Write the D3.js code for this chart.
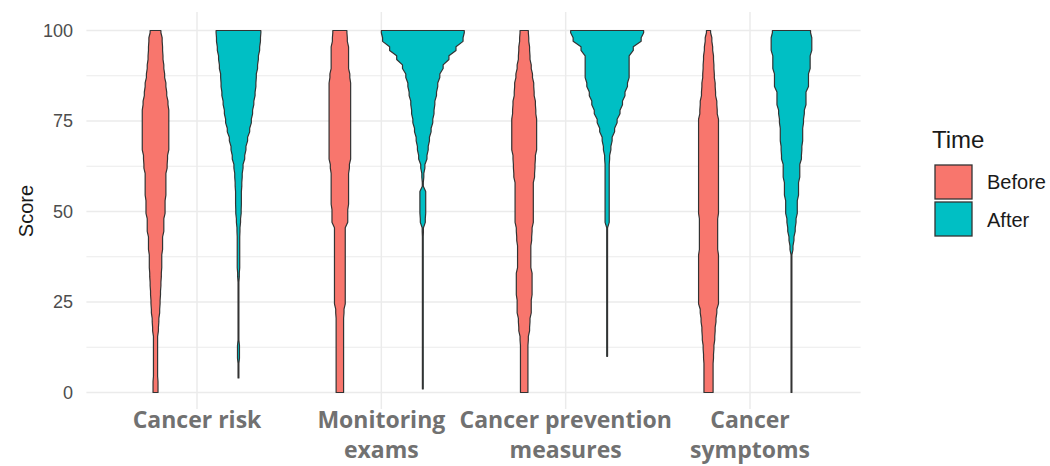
<!DOCTYPE html>
<html>
<head>
<meta charset="utf-8">
<script src="https://cdn.jsdelivr.net/npm/d3@7"></script>
<style>
  html, body { margin: 0; padding: 0; background: #ffffff; }
  svg { display: block; }
</style>
</head>
<body>
<svg id="chart" width="1050" height="466"></svg>
<script>
// Topic categories on the x axis (line breaks shown as separate label lines)
const categories = ["Cancer risk", "Monitoring exams", "Cancer prevention measures", "Cancer symptoms"];
const categoryLabels = [["Cancer risk"], ["Monitoring", "exams"], ["Cancer prevention", "measures"], ["Cancer", "symptoms"]];
const groups = ["Before", "After"];
const groupColors = ["#F8766D", "#00BFC4"];

// Score levels at which the violin density is read (top to bottom)
const scoreLevels = d3.range(100, -0.01, -2.5);

// Relative density (violin width, 100 = widest) at each score level
const riskBefore = [13,16,17,18,20,22,25,27,30,32, 32,32,32,32,29,28,25,25,25,23, 23,20,20,17,17,15,15,14,13,12, 11,10,8,7,5,5,5,5,5,6, 6];
const riskAfter = [54,53,51,48,46,43,42,40,37,34, 31,27,22,18,15,11,9,8,7,7, 6.5,5,3.6,3,3,3,3,2,1,1, 1,1,1,1,1,2.4,2.4,1,1,1, 0];
const examsBefore = [17,18,21,21,21,24,26,26,26,26, 26,26,26,26,26,23,21,21,21,21, 19,19,13,13,13,13,13,13,13,13, 13,10,9,9,9,9,9,9,9,9, 9];
const examsAfter = [100,97,80,63,49,41,36,33,29,27, 24,20,16,13,10,5,2.4,1.2,7,7, 7,6,1.5,1,1,1,1,1,1,1, 1,1,1,1,1,1,1,1,1,1, 1];
const preventionBefore = [10,11,13,14,17,20,23,24,27,28, 30,30,30,30,27,26,25,22,22,22, 22,22,19,18,16,16,16,19,19,19, 17,17,14,13,10,9,9,9,9,9, 9];
const preventionAfter = [88,82,63,53,53,53,49,43,37,31, 24,18,12,9,6,5,5,5,5,5, 5,5,1,1,1,1,1,1,1,1, 1,1,1,1,1,1,1,0,0,0, 0];
const symptomsBefore = [5,8,10,12,13,14,16,17,20,21, 24,24,24,24,24,24,24,24,24,24, 24,22,22,22,22,24,24,24,24,24, 24,20,18,16,15,13,12,11,11,11, 11];
const symptomsAfter = [46,49,49,45,45,41,41,35,35,31, 29,27,27,25,24,20,20,17,17,14, 14,11,9,6,3.6,1,1,1,1,1, 1,1,1,1,1,1,1,1,1,1, 1];

// Lowest and highest observed score of each violin
const scoreMin = [[0, 4], [0, 1], [0, 10], [0, 0]];
const scoreMax = [[100, 100], [100, 100], [100, 100], [100, 100]];

const densities = [
  [riskBefore, riskAfter],
  [examsBefore, examsAfter],
  [preventionBefore, preventionAfter],
  [symptomsBefore, symptomsAfter]
];
const yTicks = [0, 25, 50, 75, 100];
const yMinorTicks = [12.5, 37.5, 62.5, 87.5];

const svg = d3.select("#chart");
const panel = { left: 86.4, right: 860.6, top: 12, bottom: 409 };

const x = d3.scalePoint().domain(categories).range([panel.left, panel.right]).padding(0.6);
const y = d3.scaleLinear().domain([0, 100]).range([392.5, 30.5]);
const dodge = x.step() * 0.225;
const halfWidth = d3.scaleLinear().domain([0, 100]).range([0, x.step() * 0.225]);
const gridColor = "#EBEBEB";

// Grid
const grid = svg.append("g");
grid.selectAll("line.minor").data(yMinorTicks).join("line")
  .attr("x1", panel.left).attr("x2", panel.right)
  .attr("y1", d => y(d)).attr("y2", d => y(d))
  .attr("stroke", gridColor).attr("stroke-width", 1);
grid.selectAll("line.major").data(yTicks).join("line")
  .attr("x1", panel.left).attr("x2", panel.right)
  .attr("y1", d => y(d)).attr("y2", d => y(d))
  .attr("stroke", gridColor).attr("stroke-width", 1.5);
grid.selectAll("line.vmajor").data(categories).join("line")
  .attr("x1", d => x(d)).attr("x2", d => x(d))
  .attr("y1", panel.top).attr("y2", panel.bottom)
  .attr("stroke", gridColor).attr("stroke-width", 1.5);

// Violin outline: each density level is a vertical run, joined to the
// next level by a short slanted step
const ease = 0.75;
function violinPoints(cx, dens, lo, hi) {
  const right = [];
  const runs = [];
  scoreLevels.forEach((s, i) => {
    const top = Math.min(s + 1.25, hi);
    const bot = Math.max(s - 1.25, lo);
    if (top > bot) runs.push({ top, bot, w: halfWidth(dens[i]) });
  });
  runs.forEach((r, k) => {
    const t = k === 0 ? r.top : r.top - Math.min(ease, (r.top - r.bot) / 2);
    const b = k === runs.length - 1 ? r.bot : r.bot + Math.min(ease, (r.top - r.bot) / 2);
    right.push([cx + r.w, y(t)], [cx + r.w, y(b)]);
  });
  const left = right.map(([px, py]) => [2 * cx - px, py]).reverse();
  return right.concat(left);
}

const line = d3.line().curve(d3.curveLinearClosed);
const violins = svg.append("g");
categories.forEach((cat, ci) => {
  groups.forEach((g, gi) => {
    const cx = x(cat) + (gi === 0 ? -dodge : dodge);
    violins.append("path")
      .attr("d", line(violinPoints(cx, densities[ci][gi], scoreMin[ci][gi], scoreMax[ci][gi])))
      .attr("fill", groupColors[gi])
      .attr("stroke", "#333333")
      .attr("stroke-width", 1.2)
      .attr("stroke-linejoin", "round");
  });
});

// Y axis labels
svg.append("g").selectAll("text").data(yTicks).join("text")
  .attr("x", 73).attr("y", d => y(d)).attr("dy", "0.35em")
  .attr("text-anchor", "end")
  .attr("font-family", "'Liberation Sans', Arial, sans-serif")
  .attr("font-size", 18).attr("fill", "#4D4D4D")
  .text(d => d);

svg.append("text")
  .attr("transform", "translate(33,211) rotate(-90)")
  .attr("text-anchor", "middle")
  .attr("font-family", "'Liberation Sans', Arial, sans-serif")
  .attr("font-size", 20).attr("fill", "#1a1a1a")
  .text("Score");

// X axis labels
const xl = svg.append("g").selectAll("text").data(categories).join("text")
  .attr("text-anchor", "middle")
  .attr("font-family", "'Open Sans', sans-serif")
  .attr("font-weight", 700)
  .attr("font-size", 23).attr("fill", "#717171");
xl.each(function(d, i) {
  const t = d3.select(this);
  categoryLabels[i].forEach((ln, j) => {
    t.append("tspan").attr("x", x(d)).attr("y", 428 + j * 30).text(ln);
  });
});

// Legend
const legend = svg.append("g");
legend.append("text").attr("x", 932).attr("y", 148)
  .attr("font-family", "'Liberation Sans', Arial, sans-serif")
  .attr("font-size", 24).attr("fill", "#1a1a1a").text("Time");
groups.forEach((g, i) => {
  legend.append("rect")
    .attr("x", 935).attr("y", 165 + i * 37).attr("width", 37).attr("height", 34)
    .attr("fill", groupColors[i]).attr("stroke", "#333333").attr("stroke-width", 1.3);
  legend.append("text").attr("x", 987).attr("y", 182 + i * 38).attr("dy", "0.35em")
    .attr("font-family", "'Liberation Sans', Arial, sans-serif")
    .attr("font-size", 20).attr("fill", "#1a1a1a").text(g);
});
</script>
</body>
</html>
